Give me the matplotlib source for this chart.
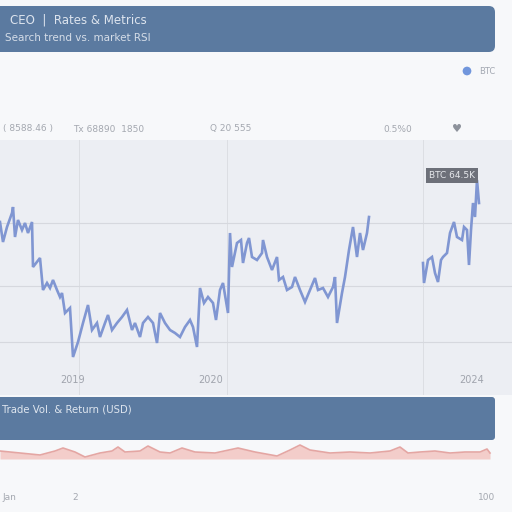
import numpy as np
import matplotlib
matplotlib.use("Agg")
import matplotlib.pyplot as plt
from matplotlib.patches import FancyBboxPatch, Circle

# price series (time step, USD); NaN marks the gap in the feed
t = [0, 3, 7, 12, 13, 15, 18, 22, 25, 28, 32, 33, 40, 43, 47, 50, 53, 57, 60, 62,
     65, 70, 73, 78, 83, 88, 92, 97, 100, 105, 108, 112, 117, 122, 127, 132, 135,
     140, 143, 148, 153, 157, 160, 165, 170, 175, 180, 185, 190, 193, 197, 200,
     204, 208, 213, 216, 220, 223, 228, 230, 232, 237, 241, 243, 247, 249, 252,
     257, 262, 263, 267, 272, 277, 279, 283, 287, 292, 295, 300, 305, 310, 315,
     318, 323, 328, 333, 335, 337, 342, 345, 349, 353, 357, 360, 363, 367, 369,
     396,
     423, 424, 428, 432, 435, 438, 441, 443, 447, 450, 454, 457, 462, 464, 467,
     469, 471, 473, 475, 477, 479]
price = [51900, 45900, 50400, 54600, 56400, 47400, 52500, 49500, 51600, 48600,
         51900, 38400, 41100, 31500, 33600, 32100, 34500, 31500, 29400, 30600,
         24600, 26100, 11400, 15900, 21600, 27000, 19500, 21600, 17400, 21600,
         24000, 19500, 21600, 23400, 25500, 19500, 21600, 17400, 21600, 23400,
         21600, 15600, 24600, 21600, 19500, 18600, 17400, 20400, 22500, 20400,
         14400, 32100, 27600, 29400, 27600, 22500, 31500, 33600, 24600, 48600,
         38400, 45600, 46500, 39600, 45600, 47100, 41400, 40500, 42600, 46500,
         41400, 37500, 41400, 34500, 35400, 31500, 32400, 35400, 31500, 27900,
         31500, 35100, 31500, 32100, 29400, 32400, 35400, 21600, 30600, 35400,
         43500, 50400, 41400, 48600, 43500, 48600, 53400,
         np.nan,
         39600, 33600, 40500, 41400, 36600, 33900, 40500, 41400, 42600, 48600,
         51900, 47400, 46500, 50400, 49500, 39000, 49500, 57600, 53400, 64500,
         57600]

year_pos = [73, 211, 472]
year_labels = ["2019", "2020", "2024"]
grid_t = [79, 227, 423]
grid_price = [15900, 32700, 51600]

# trade volume (billions USD)
vol_t = [0, 20, 40, 55, 63, 75, 85, 100, 112, 118, 125, 140, 148, 160, 170, 182,
         195, 215, 238, 255, 277, 290, 300, 310, 330, 350, 370, 390, 400, 408,
         420, 435, 450, 465, 480, 487, 490]
vol = [8, 6, 4, 8, 11, 7, 2, 6, 8, 12, 7, 8, 13, 7, 6, 11, 7, 6, 11, 7, 3, 9, 14,
       9, 6, 7, 6, 8, 12, 6, 7, 8, 6, 7, 7, 10, 6]

stats = ["( 8588.46 )", "Tx 68890  1850", "Q 20 555", "0.5%0"]
stats_x = [3, 73, 210, 383]

BG = "#f7f8fa"
BANNER = "#5b7aa0"
PANEL = "#eceef3"
LINE = "#8096d2"


def fx(px):
    return px / 512


def fy(py):
    return 1 - py / 512


fig = plt.figure(figsize=(5.12, 5.12), dpi=100, facecolor=BG)

# header banner
fig.patches.append(FancyBboxPatch((fx(-20), fy(52)), fx(515), fy(6) - fy(52),
                                  boxstyle="round,pad=0,rounding_size=0.012",
                                  transform=fig.transFigure, fc=BANNER, ec="none"))
fig.text(fx(10), fy(20), "CEO  |  Rates & Metrics", color="#dde4ee", fontsize=8.5,
         va="center")
fig.text(fx(5), fy(38), "Search trend vs. market RSI", color="#d5dde8",
         fontsize=7.5, va="center")

# legend
fig.patches.append(Circle((fx(467), fy(71)), 0.0085, transform=fig.transFigure,
                          fc="#7196dc", ec="none"))
fig.text(fx(479), fy(71), "BTC", color="#a3a8b2", fontsize=6, va="center")

# stats row
for sx, s in zip(stats_x, stats):
    fig.text(fx(sx), fy(129), s, color="#a4a8b0", fontsize=6.5, va="center")
fig.text(fx(452), fy(129), "\u2665", color="#8d929b", fontsize=8, va="center")

# main price chart
ax = fig.add_axes([0, fy(395), 1, (395 - 140) / 512])
ax.set_facecolor(PANEL)
ax.plot(t, price, color=LINE, lw=1.9, solid_joinstyle="miter")
ax.set_xlim(0, 512)
ax.set_ylim(0, 76500)
ax.set_yticks(grid_price)
ax.tick_params(length=0, labelbottom=False, labelleft=False)
ax.set_xticks([])
ax.grid(True, axis="y", color="#d6d8de", lw=0.8)
for g in grid_t:
    ax.axvline(g, color="#dcdee3", lw=0.7, zorder=0)
for s in ax.spines.values():
    s.set_visible(False)
for xp, lab in zip(year_pos, year_labels):
    ax.text(xp, 0.059, lab, transform=ax.get_xaxis_transform(), color="#a0a4ad",
            fontsize=7, ha="center", va="center")
ax.text(452, 0.86, "BTC 64.5K", transform=ax.get_xaxis_transform(),
        color="#e6e8ec", fontsize=6.5, ha="center", va="center",
        bbox=dict(boxstyle="square,pad=0.3", fc="#6d7079", ec="none"))

# second banner
fig.patches.append(FancyBboxPatch((fx(-20), fy(440)), fx(515), fy(397) - fy(440),
                                  boxstyle="round,pad=0,rounding_size=0.006",
                                  transform=fig.transFigure, fc=BANNER, ec="none"))
fig.text(fx(2), fy(410), "Trade Vol. & Return (USD)", color="#dfe6ef",
         fontsize=7.3, va="center")

# volume strip
vx = fig.add_axes([0, fy(459), 1, (459 - 444) / 512])
vx.set_axis_off()
vx.fill_between(vol_t, vol, 0, color="#f3cdca", lw=0)
vx.plot(vol_t, vol, color="#e4a6a3", lw=1.2)
vx.set_xlim(0, 512)
vx.set_ylim(0, 15)

# bottom axis labels
fig.text(fx(2), fy(497), "Jan", color="#a4a8b0", fontsize=6.5, va="center")
fig.text(fx(72), fy(497), "2", color="#a4a8b0", fontsize=6.5, va="center")
fig.text(fx(495), fy(497), "100", color="#a4a8b0", fontsize=6.5, va="center",
         ha="right")

fig.savefig("out.png", dpi=100, facecolor=BG)
